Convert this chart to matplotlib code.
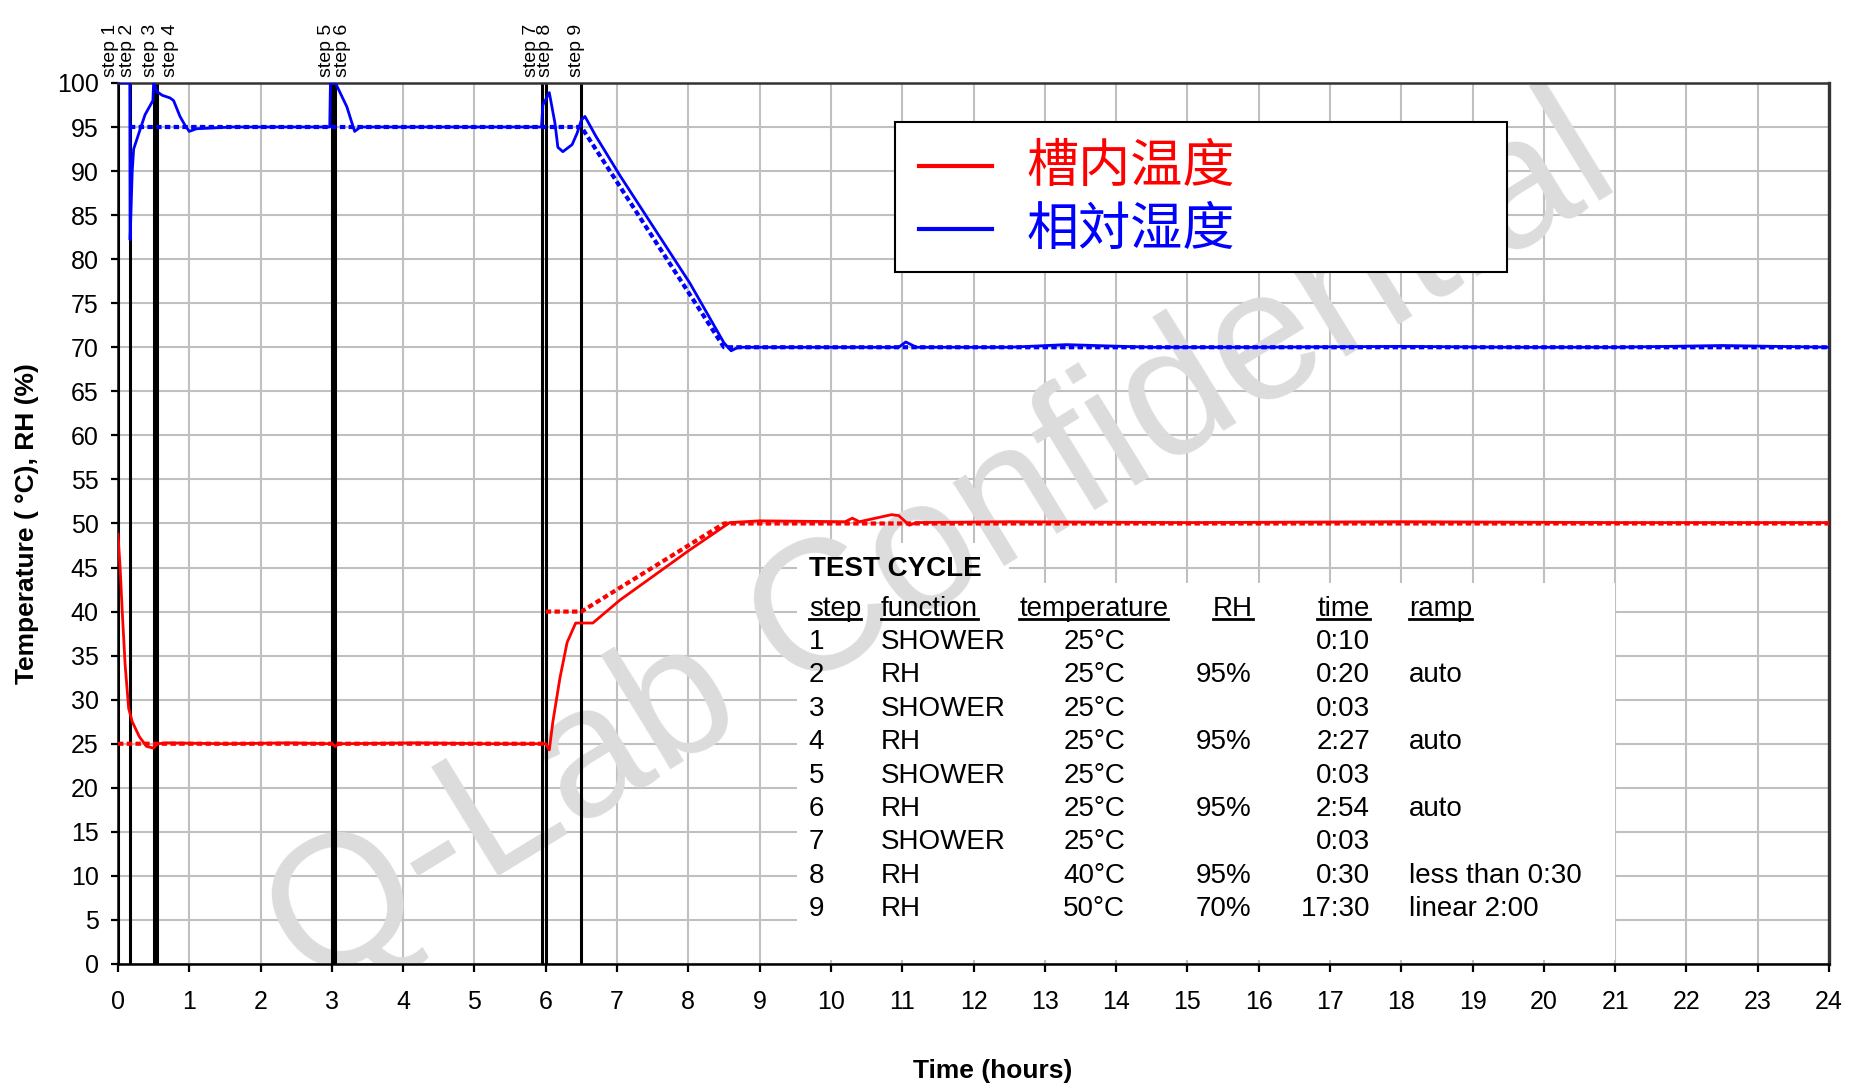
import matplotlib
matplotlib.use("Agg")
import matplotlib.pyplot as plt
from matplotlib.patches import Rectangle
from matplotlib.lines import Line2D
import numpy as np

plt.rcParams['font.family'] = ['Liberation Sans', 'Noto Sans CJK SC', 'DejaVu Sans']

# ---- chamber temperature, measured (hours, deg C) ----
temp_time = [0, 0.03, 0.06, 0.10, 0.15, 0.20, 0.30, 0.40, 0.50, 0.55, 0.70, 1.5, 2.4, 3.0,
             3.05, 3.10, 4.2, 5.2, 6.0, 6.05, 6.10, 6.20, 6.30, 6.42, 6.66, 7.04, 8.02, 8.58,
             9.0, 10.2, 10.3, 10.4, 10.85, 10.95, 11.1, 11.2, 12.5, 15.0, 18.0, 21.0, 24.0]
temp_value = [48.8, 45.0, 40.0, 34.0, 29.0, 27.5, 25.8, 24.7, 24.5, 25.0, 25.1, 25.0, 25.1, 25.0,
              24.7, 25.0, 25.1, 25.0, 25.0, 24.3, 27.5, 32.5, 36.5, 38.7, 38.7, 41.3, 47.0, 50.1,
              50.3, 50.2, 50.6, 50.2, 51.0, 50.9, 49.8, 50.1, 50.2, 50.1, 50.2, 50.1, 50.1]

# ---- chamber temperature, set point (gap at the 25 -> 40 jump) ----
temp_sp_time = [0, 6.0, 6.0, 6.0, 6.5, 8.5, 24.0]
temp_sp_value = [25, 25, np.nan, 40, 40, 50, 50]

# ---- relative humidity, measured (hours, %) ----
rh_time = [0, 0.166, 0.17, 0.20, 0.22, 0.31, 0.38, 0.49, 0.50, 0.55, 0.62, 0.73, 0.78, 0.87,
           0.94, 1.0, 1.1, 1.6, 2.2, 2.97, 2.98, 3.05, 3.08, 3.21, 3.28, 3.32, 3.4, 4.2, 5.1,
           5.94, 5.96, 6.05, 6.13, 6.17, 6.24, 6.37, 6.44, 6.50, 6.55, 6.70, 7.04, 8.02, 8.50,
           8.60, 8.70, 9.5, 10.95, 11.05, 11.2, 12.5, 13.3, 14.5, 16.0, 18.0, 19.5, 21.0, 22.5, 24.0]
rh_value = [100, 100, 82.2, 90.0, 92.5, 94.7, 96.4, 98.0, 100, 99.0, 98.6, 98.3, 98.0, 96.2,
            95.2, 94.5, 94.8, 95.0, 95.0, 95.0, 100, 100, 99.5, 97.3, 95.5, 94.5, 95.0, 95.0, 95.0,
            95.0, 97.5, 98.9, 95.4, 92.7, 92.2, 93.0, 94.3, 95.8, 96.2, 94.0, 89.5, 77.3, 70.5,
            69.6, 70.0, 70.0, 70.0, 70.6, 70.0, 70.0, 70.3, 70.0, 70.0, 70.1, 70.0, 70.0, 70.2, 70.0]

# ---- relative humidity, set point ----
rh_sp_time = [0.167, 6.5, 8.5, 24.0]
rh_sp_value = [95, 95, 70, 70]

# ---- test programme ----
step_names = ["step 1", "step 2", "step 3", "step 4", "step 5",
              "step 6", "step 7", "step 8", "step 9"]
step_minutes = [10, 20, 3, 147, 3, 174, 3, 30, 1050]
step_label_shift = [-0.11, -0.03, -0.05, 0.18, -0.07, 0.10, -0.15, 0.0, -0.07]

table_headers = ["step", "function", "temperature", "RH", "time", "ramp"]
table_step = ["1", "2", "3", "4", "5", "6", "7", "8", "9"]
table_function = ["SHOWER", "RH", "SHOWER", "RH", "SHOWER", "RH", "SHOWER", "RH", "RH"]
table_temp = ["25°C", "25°C", "25°C", "25°C", "25°C", "25°C", "25°C", "40°C", "50°C"]
table_rh = ["", "95%", "", "95%", "", "95%", "", "95%", "70%"]
table_time = ["0:10", "0:20", "0:03", "2:27", "0:03", "2:54", "0:03", "0:30", "17:30"]
table_ramp = ["", "auto", "", "auto", "", "auto", "", "less than 0:30", "linear 2:00"]

legend_labels = ["槽内温度", "相対湿度"]
series_colors = ["#ff0000", "#0000ff"]

x_ticks = list(range(0, 25))
y_ticks = list(range(0, 101, 5))

# ------------------------------------------------------------------
fig = plt.figure(figsize=(18.52, 10.90), dpi=100)
ax = fig.add_axes([0.0637, 0.1156, 0.9239, 0.8083])
ax.set_xlim(0, 24)
ax.set_ylim(0, 100)
ax.set_xticks(x_ticks)
ax.set_yticks(y_ticks)
ax.set_axisbelow(True)
ax.grid(True, color="#c0c0c0", lw=1.5, zorder=0.5)

ax.tick_params(axis="y", direction="out", length=5, width=1.6, pad=9, labelsize=18)
ax.tick_params(axis="x", direction="out", length=5.5, width=1.6, pad=13, labelsize=18)
for side in ("left", "bottom"):
    ax.spines[side].set_color("black")
    ax.spines[side].set_linewidth(1.8)
ax.spines["top"].set_color("#333333")
ax.spines["top"].set_linewidth(1.8)
ax.spines["right"].set_color("#333333")
ax.spines["right"].set_linewidth(2.4)

ax.set_xlabel("Time (hours)", fontsize=19, fontweight="bold")
ax.xaxis.set_label_coords(0.511, -0.108)
ax.set_ylabel("Temperature ( °C), RH (%)", fontsize=19, fontweight="bold")
ax.yaxis.set_label_coords(-0.046, 0.5)

# test-cycle panel background
ax.add_patch(Rectangle((9.52, 0.4), 21.0 - 9.52, 43.3 - 0.4, facecolor="white",
                       edgecolor="none", zorder=1))
ax.add_patch(Rectangle((9.52, 43.3), 12.5 - 9.52, 47.8 - 43.3, facecolor="white",
                       edgecolor="none", zorder=1))

# watermark
ax.text(0.482, 0.472, "Q-Lab Confidential", transform=ax.transAxes, rotation=31.5,
        rotation_mode="anchor", ha="center", va="center", fontsize=133,
        color="#dcdcdc", zorder=1.5, clip_on=True)

# step boundaries
step_start = np.cumsum([0] + step_minutes[:-1]) / 60.0
for name, t0, shift in zip(step_names, step_start, step_label_shift):
    ax.axvline(t0, color="black", lw=2.2, zorder=2)
    ax.annotate(name, xy=(t0 + shift, 1.0), xycoords=("data", "axes fraction"),
                xytext=(0, 4), textcoords="offset points", rotation=90,
                ha="center", va="bottom", fontsize=14, annotation_clip=False)

# set points (dotted) and measured values
ax.plot(temp_sp_time, temp_sp_value, color=series_colors[0], lw=3, dashes=(1.3, 0.8), zorder=3)
ax.plot(rh_sp_time, rh_sp_value, color=series_colors[1], lw=3, dashes=(1.3, 0.8), zorder=3)
ax.plot(temp_time, temp_value, color=series_colors[0], lw=2.0, zorder=3.2)
ax.plot(rh_time, rh_value, color=series_colors[1], lw=2.0, zorder=3.2)

# test-cycle table
fs_tab = 20
ax.text(9.69, 44.8, "TEST CYCLE", fontsize=fs_tab, fontweight="bold", ha="left",
        va="center", zorder=4)
header_x = [9.69, 10.70, 12.64, 15.36, 16.82, 18.11]
header_texts = []
for hx, h in zip(header_x, table_headers):
    header_texts.append(ax.text(hx, 40.25, h, fontsize=fs_tab, ha="left", va="center", zorder=4))
row_y = 36.55 - 3.79 * np.arange(len(table_step))
for i, y in enumerate(row_y):
    ax.text(9.69, y, table_step[i], fontsize=fs_tab, ha="left", va="center", zorder=4)
    ax.text(10.70, y, table_function[i], fontsize=fs_tab, ha="left", va="center", zorder=4)
    ax.text(13.26, y, table_temp[i], fontsize=fs_tab, ha="left", va="center", zorder=4)
    ax.text(15.12, y, table_rh[i], fontsize=fs_tab, ha="left", va="center", zorder=4)
    ax.text(17.56, y, table_time[i], fontsize=fs_tab, ha="right", va="center", zorder=4)
    ax.text(18.11, y, table_ramp[i], fontsize=fs_tab, ha="left", va="center", zorder=4)

# legend box
ax.add_patch(Rectangle((0.454, 0.785), 0.358, 0.171, transform=ax.transAxes,
                       facecolor="white", edgecolor="black", lw=1.5, zorder=5))
for (label, color, ly) in zip(legend_labels, series_colors, [0.904, 0.8325]):
    ax.add_line(Line2D([0.468, 0.511], [ly + 0.002, ly + 0.002], transform=ax.transAxes,
                       color=color, lw=3, zorder=6))
    ax.text(0.531, ly, label, transform=ax.transAxes, color=color, fontsize=37.5,
            family=["Noto Sans CJK SC", "DejaVu Sans"], ha="left", va="center", zorder=6)

# underline the table headers
fig.canvas.draw()
renderer = fig.canvas.get_renderer()
inv = fig.transFigure.inverted()
for t in header_texts:
    bb = t.get_window_extent(renderer)
    (x0, y0), (x1, _) = inv.transform([(bb.x0, bb.y0 + 3), (bb.x1, bb.y0 + 3)])
    fig.add_artist(Line2D([x0, x1], [y0, y0], transform=fig.transFigure, color="black", lw=2))

fig.savefig("out.png", dpi=100)
